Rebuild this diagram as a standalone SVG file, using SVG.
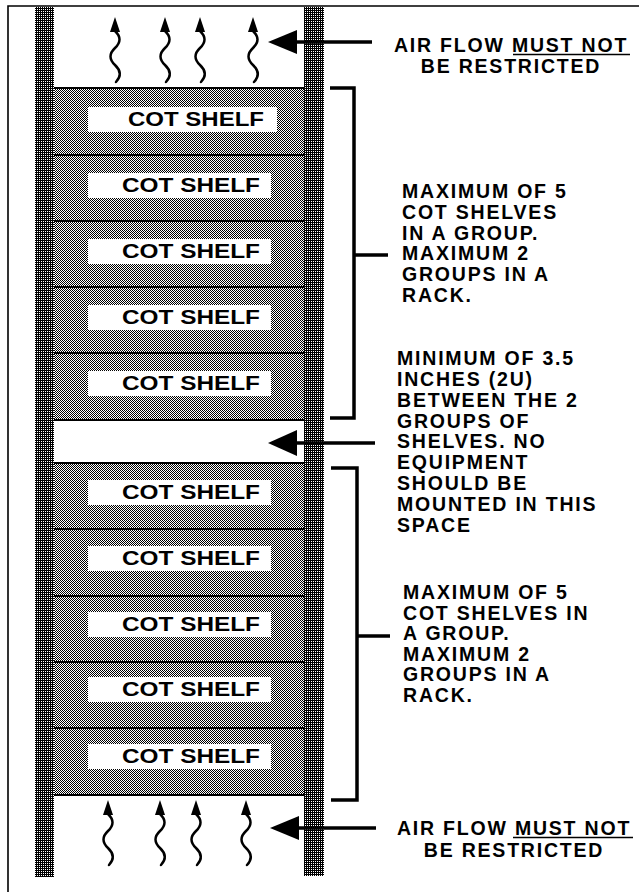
<svg xmlns="http://www.w3.org/2000/svg" xmlns:xlink="http://www.w3.org/1999/xlink" width="639" height="892" viewBox="0 0 639 892">
<defs>
<pattern id="postFill" patternUnits="userSpaceOnUse" width="2" height="2">
<rect width="2" height="2" fill="#000"/>
<rect x="1" y="1" width="1" height="1" fill="#fff"/>
</pattern>
<pattern id="shelfFill" patternUnits="userSpaceOnUse" width="2" height="2">
<rect width="2" height="2" fill="#fff"/>
<rect x="0" y="0" width="1" height="1" fill="#000"/>
<rect x="1" y="1" width="1" height="1" fill="#000"/>
</pattern>
<g id="wave">
<polygon points="0,0 -5,15 5,15" fill="#000"/>
<path d="M0,14 Q9,22.5 0,31 T0,48 T1,65" fill="none" stroke="#000" stroke-width="2.5" stroke-linecap="round"/>
</g>
</defs>
<style>
.t{font-family:"Liberation Sans",Arial,sans-serif;font-weight:bold;font-size:19.5px;letter-spacing:1.8px;fill:#000}
.lbl{font-family:"Liberation Sans",Arial,sans-serif;font-weight:bold;font-size:21px;fill:#000}
.edge{stroke:#000;stroke-width:2;fill:none}
.conn{stroke:#000;stroke-width:3.5;fill:none}
.ul{stroke:#000;stroke-width:1.6}
</style>
<rect width="639" height="892" fill="#fff"/>

<g id="frame">
<path d="M8,892 V6 H639" fill="none" stroke="#000" stroke-width="1.6"/>
</g>

<g id="shelves">
<g id="shelf1"><rect x="54" y="88" width="250" height="67" fill="url(#shelfFill)"/><rect x="88" y="107" width="189" height="25" fill="#fff"/><text class="lbl" x="128" y="126" textLength="136" lengthAdjust="spacingAndGlyphs">COT SHELF</text></g>
<g id="shelf2"><rect x="54" y="155" width="250" height="66" fill="url(#shelfFill)"/><rect x="88" y="173" width="183" height="25" fill="#fff"/><text class="lbl" x="122" y="192" textLength="138" lengthAdjust="spacingAndGlyphs">COT SHELF</text></g>
<g id="shelf3"><rect x="54" y="221" width="250" height="66" fill="url(#shelfFill)"/><rect x="88" y="239" width="183" height="25" fill="#fff"/><text class="lbl" x="122" y="258" textLength="138" lengthAdjust="spacingAndGlyphs">COT SHELF</text></g>
<g id="shelf4"><rect x="54" y="287" width="250" height="66" fill="url(#shelfFill)"/><rect x="88" y="305" width="183" height="25" fill="#fff"/><text class="lbl" x="122" y="324" textLength="138" lengthAdjust="spacingAndGlyphs">COT SHELF</text></g>
<g id="shelf5"><rect x="54" y="353" width="250" height="67" fill="url(#shelfFill)"/><rect x="88" y="371" width="183" height="25" fill="#fff"/><text class="lbl" x="122" y="390" textLength="138" lengthAdjust="spacingAndGlyphs">COT SHELF</text></g>
<g id="shelf6"><rect x="54" y="463" width="250" height="66" fill="url(#shelfFill)"/><rect x="88" y="480" width="183" height="25" fill="#fff"/><text class="lbl" x="122" y="499" textLength="138" lengthAdjust="spacingAndGlyphs">COT SHELF</text></g>
<g id="shelf7"><rect x="54" y="529" width="250" height="67" fill="url(#shelfFill)"/><rect x="88" y="546" width="183" height="25" fill="#fff"/><text class="lbl" x="122" y="565" textLength="138" lengthAdjust="spacingAndGlyphs">COT SHELF</text></g>
<g id="shelf8"><rect x="54" y="596" width="250" height="66" fill="url(#shelfFill)"/><rect x="88" y="612" width="183" height="25" fill="#fff"/><text class="lbl" x="122" y="631" textLength="138" lengthAdjust="spacingAndGlyphs">COT SHELF</text></g>
<g id="shelf9"><rect x="54" y="662" width="250" height="66" fill="url(#shelfFill)"/><rect x="88" y="677" width="183" height="25" fill="#fff"/><text class="lbl" x="122" y="696" textLength="138" lengthAdjust="spacingAndGlyphs">COT SHELF</text></g>
<g id="shelf10"><rect x="54" y="728" width="250" height="67" fill="url(#shelfFill)"/><rect x="88" y="744" width="183" height="25" fill="#fff"/><text class="lbl" x="122" y="763" textLength="138" lengthAdjust="spacingAndGlyphs">COT SHELF</text></g>
<path class="edge" d="M54,88 H304 M54,155 H304 M54,221 H304 M54,287 H304 M54,353 H304 M54,420 H304 M54,463 H304 M54,529 H304 M54,596 H304 M54,662 H304 M54,728 H304 M54,795 H304"/>
</g>

<g id="posts">
<rect id="postLeft" x="35" y="7" width="19" height="870" fill="url(#postFill)"/>
<rect id="postRight" x="304" y="7" width="20" height="869" fill="url(#postFill)"/>
</g>

<g id="airflowTop">
<use xlink:href="#wave" x="115" y="17"/>
<use xlink:href="#wave" x="165" y="17"/>
<use xlink:href="#wave" x="200" y="17"/>
<use xlink:href="#wave" x="253" y="17"/>
</g>
<g id="airflowBottom">
<use xlink:href="#wave" x="108" y="800"/>
<use xlink:href="#wave" x="160" y="800"/>
<use xlink:href="#wave" x="196" y="800"/>
<use xlink:href="#wave" x="246" y="800"/>
</g>

<g id="connectors">
<polygon points="268,42 297,30 297,54" fill="#000"/>
<line class="conn" x1="292" y1="42" x2="372" y2="42" stroke-width="4"/>
<polygon points="268,443 297,430 297,456" fill="#000"/>
<line class="conn" x1="292" y1="443" x2="375" y2="443" stroke-width="4"/>
<polygon points="270,828 299,816 299,840" fill="#000"/>
<line class="conn" x1="294" y1="828" x2="376" y2="828" stroke-width="4"/>
<path class="conn" d="M330,88 H354 V418 H330 M354,255 H388"/>
<path class="conn" d="M331,468 H357 V800 H331 M357,636 H390"/>
</g>

<g id="labelAirTop">
<text class="t" x="511" y="52" text-anchor="middle">AIR FLOW MUST NOT</text>
<line class="ul" x1="513" y1="54.5" x2="630" y2="54.5"/>
<text class="t" x="511" y="73" text-anchor="middle">BE RESTRICTED</text>
</g>

<g id="labelGroupTop">
<text class="t" x="402" y="198">MAXIMUM OF 5</text>
<text class="t" x="402" y="219">COT SHELVES</text>
<text class="t" x="402" y="240">IN A GROUP.</text>
<text class="t" x="402" y="260">MAXIMUM 2</text>
<text class="t" x="402" y="281">GROUPS IN A</text>
<text class="t" x="402" y="302">RACK.</text>
</g>

<g id="labelGap">
<text class="t" x="397" y="365">MINIMUM OF 3.5</text>
<text class="t" x="397" y="386">INCHES (2U)</text>
<text class="t" x="397" y="407">BETWEEN THE 2</text>
<text class="t" x="397" y="428">GROUPS OF</text>
<text class="t" x="397" y="448">SHELVES. NO</text>
<text class="t" x="397" y="469">EQUIPMENT</text>
<text class="t" x="397" y="490">SHOULD BE</text>
<text class="t" x="397" y="511">MOUNTED IN THIS</text>
<text class="t" x="397" y="532">SPACE</text>
</g>

<g id="labelGroupBottom">
<text class="t" x="403" y="599">MAXIMUM OF 5</text>
<text class="t" x="403" y="620">COT SHELVES IN</text>
<text class="t" x="403" y="640">A GROUP.</text>
<text class="t" x="403" y="661">MAXIMUM 2</text>
<text class="t" x="403" y="681">GROUPS IN A</text>
<text class="t" x="403" y="702">RACK.</text>
</g>

<g id="labelAirBottom">
<text class="t" x="514" y="835" text-anchor="middle">AIR FLOW MUST NOT</text>
<line class="ul" x1="513" y1="837.5" x2="633" y2="837.5"/>
<text class="t" x="514" y="857" text-anchor="middle">BE RESTRICTED</text>
</g>
</svg>
